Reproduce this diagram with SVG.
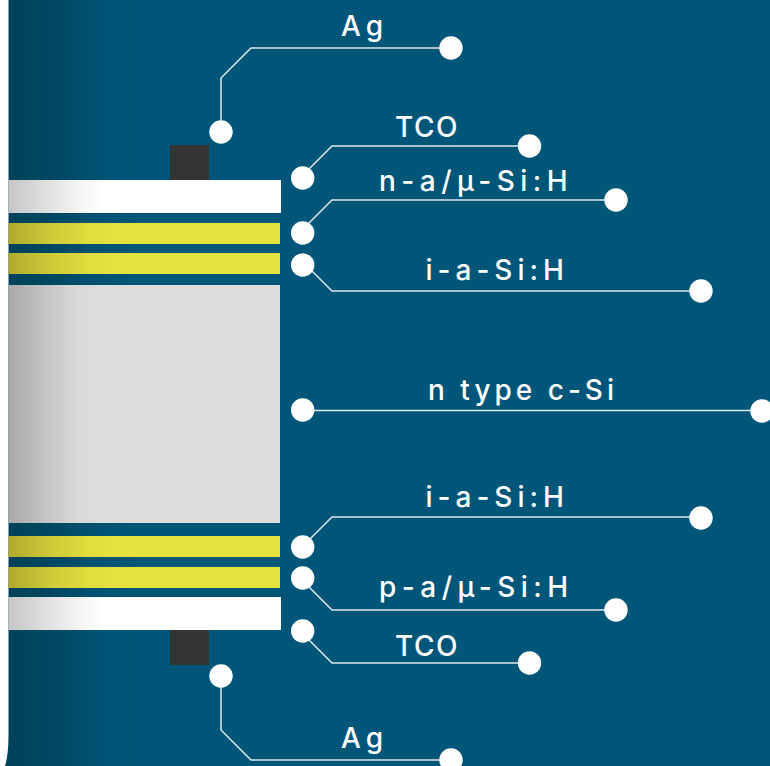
<svg xmlns="http://www.w3.org/2000/svg" width="770" height="766" viewBox="0 0 770 766">
<style>
.ln{fill:none;stroke:#dfe9ed;stroke-width:1.5}
.dot{fill:#fff}
.lb{fill:#fff;font-family:Inter,"Liberation Sans",Arial,sans-serif;font-size:28px;font-weight:450}
</style>
<defs>
<linearGradient id="bg" x1="8.500" x2="130" y1="0" y2="0" gradientUnits="userSpaceOnUse"><stop offset="0" stop-color="#00425a"/><stop offset="0.3" stop-color="#004660"/><stop offset="0.65" stop-color="#00506f"/><stop offset="1" stop-color="#005678"/></linearGradient>
<linearGradient id="wh" x1="8.500" x2="105" y1="0" y2="0" gradientUnits="userSpaceOnUse"><stop offset="0" stop-color="#c6c6c6"/><stop offset="0.5" stop-color="#e6e6e6"/><stop offset="0.8" stop-color="#f8f8f8"/><stop offset="1" stop-color="#fff"/></linearGradient>
<linearGradient id="ye" x1="8.500" x2="115" y1="0" y2="0" gradientUnits="userSpaceOnUse"><stop offset="0" stop-color="#b0a92f"/><stop offset="0.4" stop-color="#cfca38"/><stop offset="0.75" stop-color="#e0dc3c"/><stop offset="1" stop-color="#e5e13e"/></linearGradient>
<linearGradient id="gr" x1="8.500" x2="95" y1="0" y2="0" gradientUnits="userSpaceOnUse"><stop offset="0" stop-color="#a8a8a8"/><stop offset="0.5" stop-color="#c8c8c8"/><stop offset="0.8" stop-color="#d8d8d8"/><stop offset="1" stop-color="#dcdcdc"/></linearGradient>
</defs>
<path d="M8.500 0H770V766H5Q8.500 755 8.500 735Z" fill="url(#bg)"/>
<g id="layers">
<rect x="170" y="145" width="39" height="35" fill="#333433"/>
<rect x="8.500" y="180" width="272.500" height="33" fill="url(#wh)"/>
<rect x="8.500" y="223" width="271.500" height="21" fill="url(#ye)"/>
<rect x="8.500" y="253" width="271.500" height="21" fill="url(#ye)"/>
<rect x="8.500" y="285" width="271.500" height="238" fill="url(#gr)"/>
<rect x="8.500" y="536" width="271.500" height="21" fill="url(#ye)"/>
<rect x="8.500" y="567" width="271.500" height="21" fill="url(#ye)"/>
<rect x="8.500" y="597" width="272.500" height="33" fill="url(#wh)"/>
<rect x="170" y="630" width="39" height="35" fill="#333433"/>
</g>
<g id="connectors">
<path class="ln" d="M221 132V78L251 48H451"/>
<path class="ln" d="M302 176L332 146H530"/>
<path class="ln" d="M302 230L332 200H616"/>
<path class="ln" d="M302 261L332 291H701"/>
<path class="ln" d="M302.500 410.500H762"/>
<path class="ln" d="M302 547L332 517H701"/>
<path class="ln" d="M302 580L332 610H616"/>
<path class="ln" d="M302 633L332 663H530"/>
<path class="ln" d="M221 676V730L251 760H451"/>
</g>
<g id="n1"><circle class="dot" cx="221" cy="132" r="11.700"/><circle class="dot" cx="451" cy="48" r="11.700"/><text class="lb" letter-spacing="5" x="341" y="36">Ag</text></g>
<g id="n2"><circle class="dot" cx="302.700" cy="178" r="11.700"/><circle class="dot" cx="529.500" cy="146" r="11.700"/><text class="lb" letter-spacing="1.500" x="395" y="137">TCO</text></g>
<g id="n3"><circle class="dot" cx="302.700" cy="233" r="11.700"/><circle class="dot" cx="616" cy="200" r="11.700"/><text class="lb" letter-spacing="5.500" x="379" y="190.500">n-a/µ-Si:H</text></g>
<g id="n4"><circle class="dot" cx="302.700" cy="265" r="11.700"/><circle class="dot" cx="701" cy="291" r="11.700"/><text class="lb" letter-spacing="5" x="425.500" y="279.500">i-a-Si:H</text></g>
<g id="n5"><circle class="dot" cx="302.700" cy="410" r="11.700"/><circle class="dot" cx="762" cy="411" r="11.700"/><text class="lb" letter-spacing="4" x="428" y="399.500">n type c-Si</text></g>
<g id="n6"><circle class="dot" cx="302.700" cy="547" r="11.700"/><circle class="dot" cx="701" cy="518" r="11.700"/><text class="lb" letter-spacing="5" x="425.500" y="506.500">i-a-Si:H</text></g>
<g id="n7"><circle class="dot" cx="302.700" cy="578" r="11.700"/><circle class="dot" cx="616" cy="610" r="11.700"/><text class="lb" letter-spacing="5.500" x="379" y="596.500">p-a/µ-Si:H</text></g>
<g id="n8"><circle class="dot" cx="302.700" cy="631" r="11.700"/><circle class="dot" cx="529.500" cy="663" r="11.700"/><text class="lb" letter-spacing="1.500" x="395" y="656">TCO</text></g>
<g id="n9"><circle class="dot" cx="221" cy="676" r="11.700"/><circle class="dot" cx="451" cy="760" r="11.700"/><text class="lb" letter-spacing="5" x="341" y="747.500">Ag</text></g>
</svg>
